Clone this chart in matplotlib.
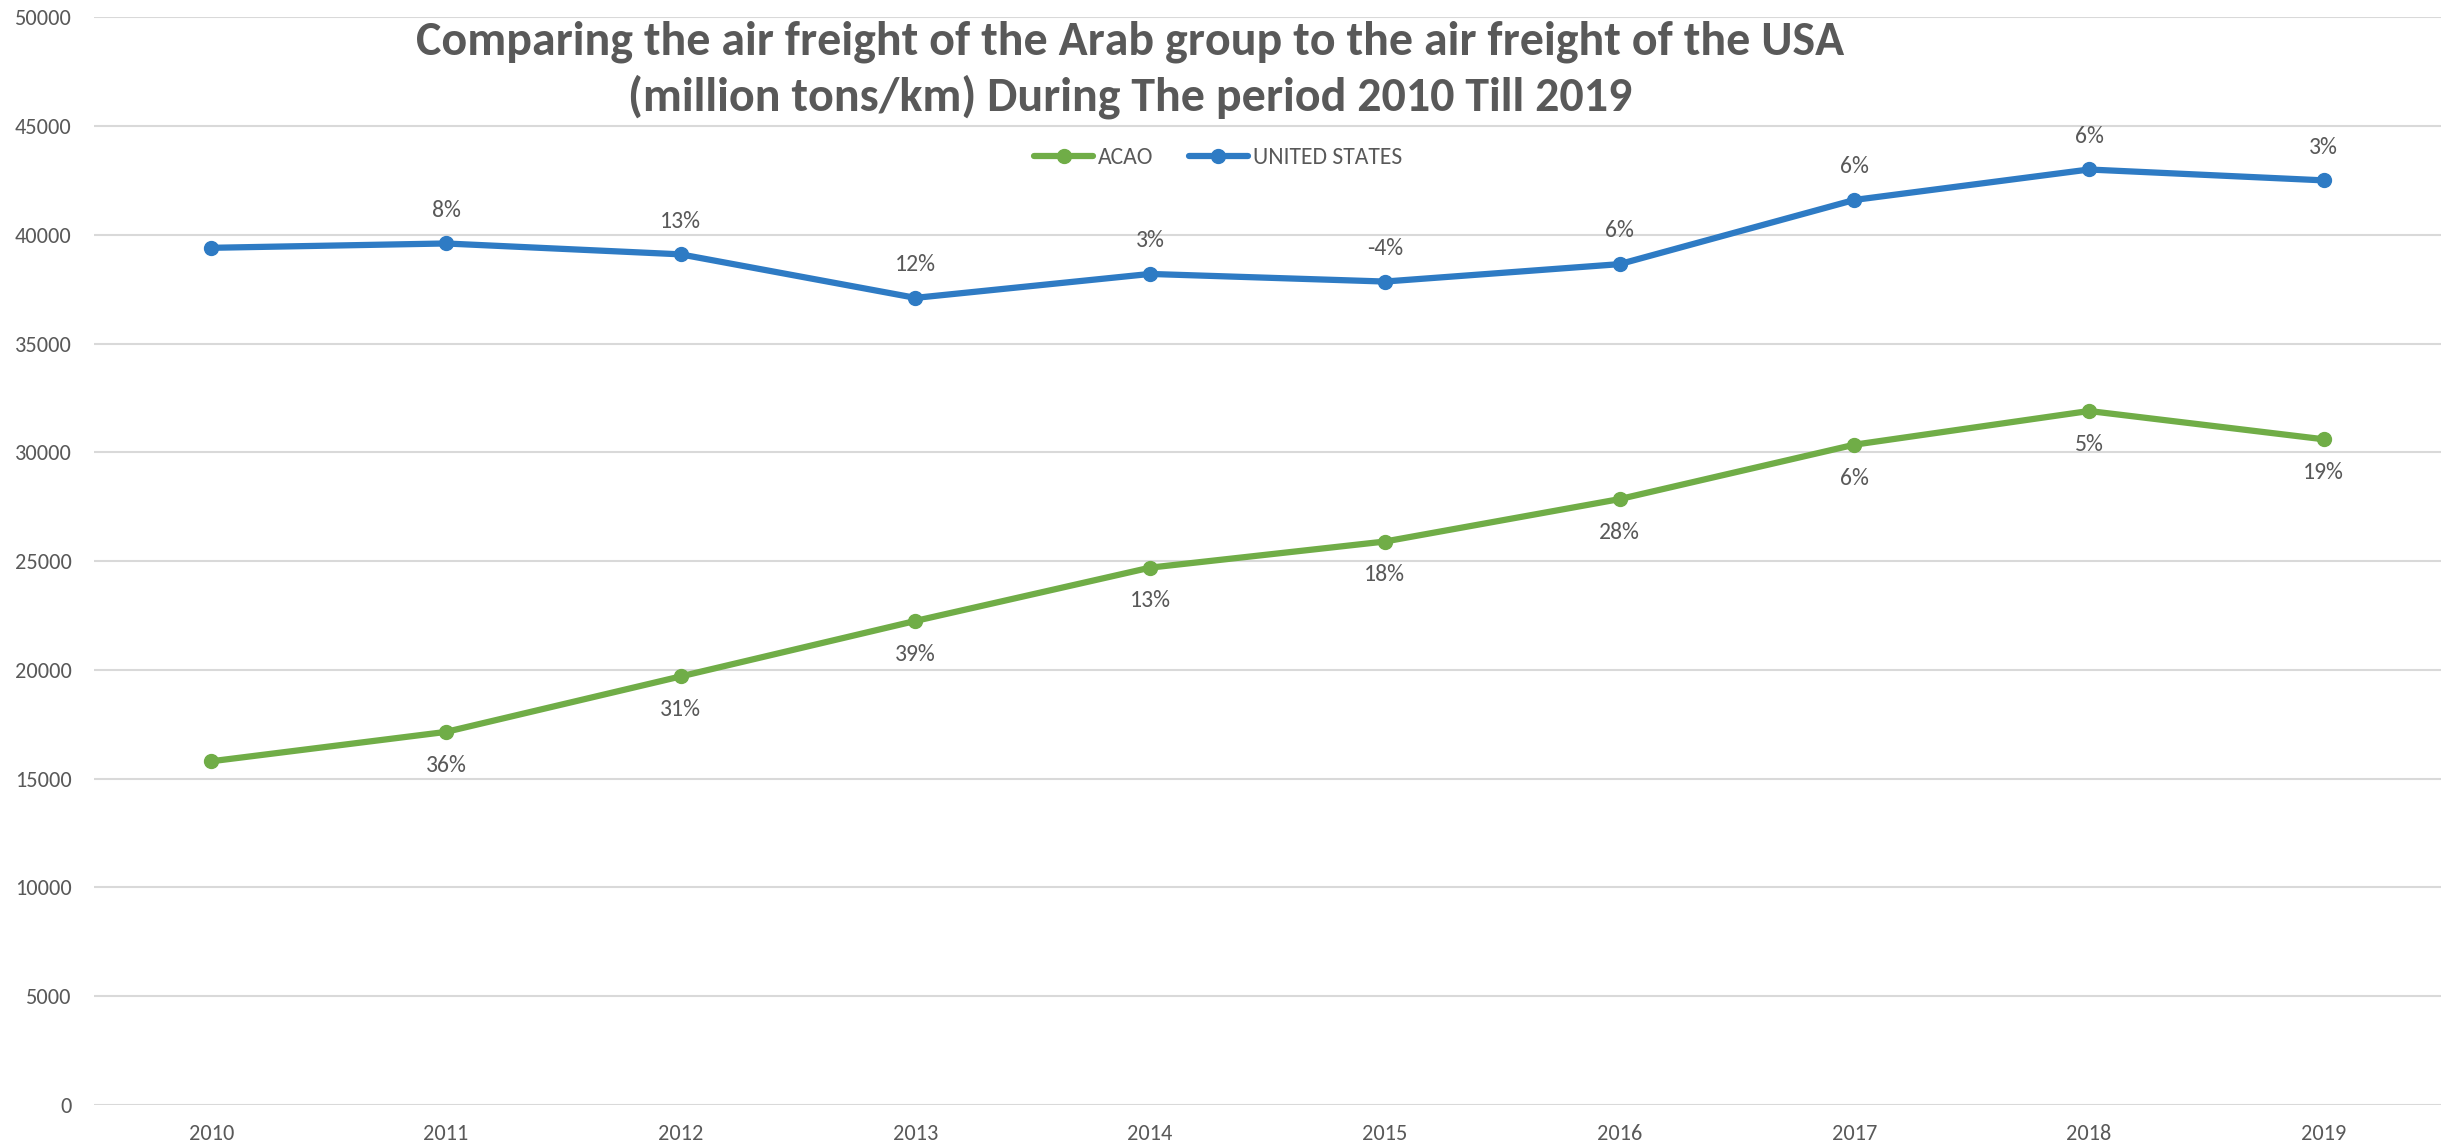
import numpy as np
import matplotlib.pyplot as plt
from matplotlib import font_manager

years = ["2010", "2011", "2012", "2013", "2014", "2015", "2016", "2017", "2018", "2019"]
acao = [15800, 17150, 19700, 22250, 24700, 25900, 27850, 30350, 31900, 30600]
usa = [39400, 39600, 39100, 37100, 38200, 37850, 38650, 41600, 43000, 42500]
acao_labels = ["", "36%", "31%", "39%", "13%", "18%", "28%", "6%", "5%", "19%"]
usa_labels = ["", "8%", "13%", "12%", "3%", "-4%", "6%", "6%", "6%", "3%"]

installed = {f.name for f in font_manager.fontManager.ttflist}
narrow = [f for f in ["Carlito", "Liberation Sans Narrow", "Open Sans"] if f in installed]
plt.rcParams['font.family'] = narrow + ['DejaVu Sans']

txt = "#595959"
green = "#70AD47"
blue = "#2E7BC4"

fig = plt.figure(figsize=(24.58, 11.47), dpi=100)
ax = fig.add_axes([0.0382, 0.0366, 0.9549, 0.9484])

x = np.arange(len(years))
ax.plot(x, acao, color=green, lw=4.5, marker="o", ms=10, label="ACAO", solid_capstyle="round")
ax.plot(x, usa, color=blue, lw=4.5, marker="o", ms=10, label="UNITED STATES", solid_capstyle="round")

for i in x:
    if usa_labels[i]:
        ax.annotate(usa_labels[i], (i, usa[i]), xytext=(0, 24), textcoords="offset points",
                    ha="center", va="center", fontsize=17, color=txt)
    if acao_labels[i]:
        ax.annotate(acao_labels[i], (i, acao[i]), xytext=(0, -24), textcoords="offset points",
                    ha="center", va="center", fontsize=17, color=txt)

ax.set_xlim(-0.5, len(years) - 0.5)
ax.set_ylim(0, 50000)
ax.set_yticks(np.arange(0, 50001, 5000))
ax.set_xticks(x)
ax.set_xticklabels(years)
ax.grid(axis="y", color="#D9D9D9", lw=1.5)
ax.set_axisbelow(True)
for s in ax.spines.values():
    s.set_visible(False)
ax.tick_params(axis="both", length=0, labelsize=16, labelcolor=txt)
ax.tick_params(axis="y", pad=16)
ax.tick_params(axis="x", pad=14)

fig.text(0.4598, 0.939, "Comparing the air freight of the Arab group to the air freight of the USA\n"
         "(million tons/km) During The period 2010 Till 2019",
         ha="center", va="center", fontsize=34.5, fontweight="bold", color=txt, linespacing=1.3)

ax.legend(loc="center", bbox_to_anchor=(1218 / 2458, 1 - 158 / 1147), bbox_transform=fig.transFigure,
          ncol=2, frameon=False, fontsize=17, labelcolor=txt, handlelength=2.5, columnspacing=1.5,
          handletextpad=0.2)

fig.savefig("out.png", dpi=100, facecolor="white")
